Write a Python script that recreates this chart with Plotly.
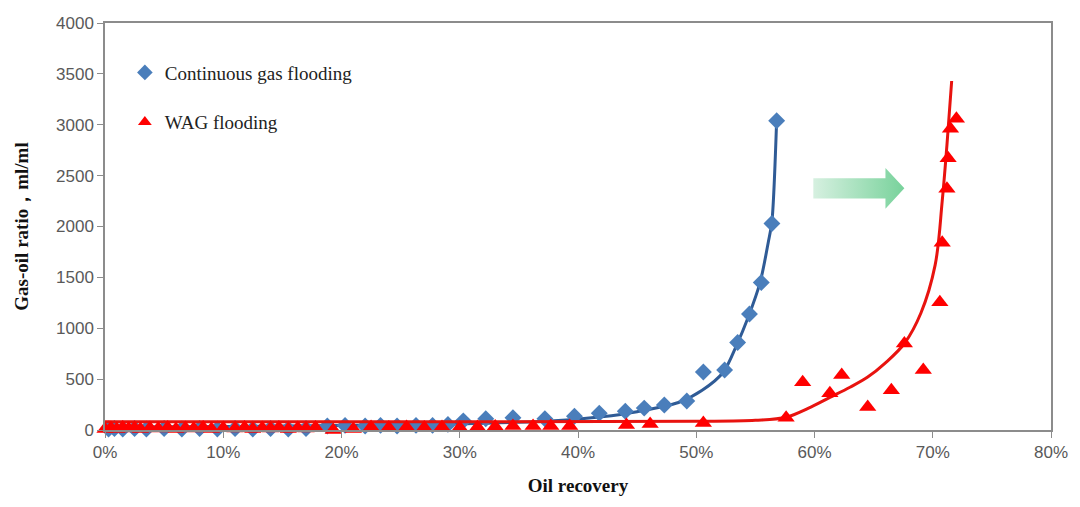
import plotly.graph_objects as go

# ---- data (oil recovery in %, gas-oil ratio in ml/ml) ----
cgf_x = [0.3, 0.8, 1.5, 2.5, 3.5, 5.0, 6.5, 8.0, 9.5, 11.0, 12.5, 14.0, 15.5, 17.0,
         18.8, 20.3, 22.0, 23.3, 24.7, 26.3, 27.7, 29.0, 30.3, 32.2, 34.5, 37.2,
         39.7, 41.8, 44.0, 45.6, 47.3, 49.2, 50.6, 52.4, 53.5, 54.5, 55.5, 56.4, 56.8]
cgf_y = [10, 15, 10, 15, 10, 15, 10, 15, 10, 15, 10, 15, 10, 15,
         40, 45, 40, 45, 40, 45, 45, 55, 90, 110, 120, 110,
         135, 165, 185, 215, 245, 285, 570, 590, 860, 1140, 1450, 2030, 3040]

cgf_fit_x = [0, 10, 20, 30, 38, 42, 45, 48.5, 50.5, 52.3, 53.4, 54.4, 55.4, 56.1, 56.4, 56.8]
cgf_fit_y = [30, 35, 45, 60, 90, 130, 180, 270, 390, 570, 830, 1110, 1450, 1850, 2050, 3050]

wag_x = [0.0, 0.5, 1.0, 1.5, 2.0, 2.5, 3.0, 3.8, 4.5, 5.3, 6.0, 6.8, 7.5, 8.3, 9.0,
         10.0, 11.0, 11.8, 12.5, 13.3, 14.0, 14.7, 15.5, 16.3, 17.0, 17.8,
         19.3, 21.0, 22.5, 24.0, 25.5, 27.0, 28.5, 30.0, 31.5, 33.0, 34.5, 36.2,
         37.7, 39.3, 44.1, 46.1, 50.6, 57.6, 59.0, 61.3, 62.3, 64.5, 66.5, 67.6,
         69.2, 70.6, 70.8, 71.2, 71.3, 71.5, 72.0]
wag_y = [10, 20, 10, 25, 15, 20, 10, 20, 15, 25, 10, 20, 15, 25, 10,
         20, 15, 25, 10, 20, 15, 25, 10, 20, 15, 25,
         0, 10, 30, 25, 30, 25, 30, 25, 30, 35, 40, 40,
         40, 40, 50, 60, 70, 120, 470, 360, 540, 225, 390, 850,
         590, 1255, 1840, 2370, 2670, 2960, 3060]

wag_fit_x = [0, 30, 50, 55, 57.6, 59.5, 61.3, 63, 64.5, 66, 67.6, 69, 70.2, 70.8, 71.2, 71.6]
wag_fit_y = [80, 80, 85, 95, 125, 215, 320, 420, 520, 660, 850, 1150, 1620, 2250, 2800, 3430]

# decorative arrow (data coords): tail x, head start x, tip x, centre y, half-heights
arrow_x0, arrow_xh, arrow_x1 = 59.9, 66.0, 67.6
arrow_yc, arrow_body, arrow_head = 2375, 100, 200

fig = go.Figure()

# gradient arrow
fig.add_trace(go.Scatter(
    x=[arrow_x0, arrow_xh, arrow_xh, arrow_x1, arrow_xh, arrow_xh, arrow_x0, arrow_x0],
    y=[arrow_yc + arrow_body, arrow_yc + arrow_body, arrow_yc + arrow_head, arrow_yc,
       arrow_yc - arrow_head, arrow_yc - arrow_body, arrow_yc - arrow_body, arrow_yc + arrow_body],
    mode="lines", line=dict(width=0), fill="toself",
    fillgradient=dict(type="horizontal",
                      colorscale=[[0, "rgba(214,240,224,1)"], [1, "rgba(120,210,155,1)"]]),
    showlegend=False, hoverinfo="skip"))

fig.add_trace(go.Scatter(x=cgf_fit_x, y=cgf_fit_y, mode="lines",
                         line=dict(color="#2F5B96", width=3, shape="spline", smoothing=0.8),
                         showlegend=False, hoverinfo="skip"))
fig.add_trace(go.Scatter(x=cgf_x, y=cgf_y, mode="markers", name="Continuous gas flooding",
                         marker=dict(symbol="diamond", size=13, color="#4A7EBB"),
                         legendgroup="a", cliponaxis=False))
fig.add_trace(go.Scatter(x=wag_fit_x, y=wag_fit_y, mode="lines",
                         line=dict(color="#E8130F", width=3, shape="spline", smoothing=1.0),
                         showlegend=False, hoverinfo="skip"))
fig.add_trace(go.Scatter(x=wag_x, y=wag_y, mode="markers", name="WAG flooding",
                         marker=dict(symbol="triangle-up", size=15, color="#FF0000"),
                         legendgroup="b", cliponaxis=False))

axis_line = "#8C8C8C"
tick_font = dict(family="Liberation Sans, Arial", size=17, color="#595959")

fig.update_layout(
    width=1080, height=507,
    margin=dict(l=105, r=23, t=23, b=77),
    paper_bgcolor="white", plot_bgcolor="white",
    showlegend=True,
    legend=dict(x=0.021, y=0.925, xanchor="left", yanchor="top",
                font=dict(family="Liberation Serif, Times New Roman", size=19, color="#222222"),
                tracegroupgap=22, bgcolor="rgba(0,0,0,0)", itemsizing="constant"),
    xaxis=dict(range=[0, 80], dtick=10, ticksuffix="%", showgrid=False, zeroline=False,
               showline=True, linecolor=axis_line, linewidth=1.5, mirror=True,
               ticks="outside", ticklen=6, tickcolor=axis_line, tickfont=tick_font,
               title=dict(text="Oil recovery", standoff=18,
                          font=dict(family="Liberation Serif, Times New Roman", size=19,
                                    color="#111111", weight="bold"))),
    yaxis=dict(range=[0, 4000], dtick=500, showgrid=False, zeroline=False,
               showline=True, linecolor=axis_line, linewidth=1.5, mirror=True,
               ticks="outside", ticklen=6, tickcolor=axis_line, tickfont=tick_font,
               title=dict(text="Gas-oil ratio，ml/ml", standoff=22,
                          font=dict(family="Liberation Serif, Times New Roman", size=19,
                                    color="#111111", weight="bold"))),
)

fig.write_html("out.html")
